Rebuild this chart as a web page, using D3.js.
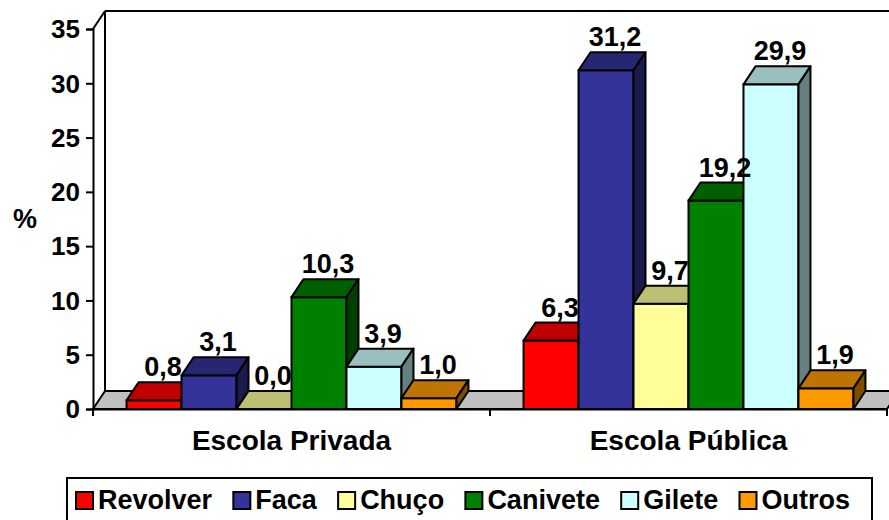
<!DOCTYPE html>
<html>
<head>
<meta charset="utf-8">
<script src="https://cdn.jsdelivr.net/npm/d3@7"></script>
<style>
  body { margin: 0; background: #fff; }
  svg { display: block; font-family: "Liberation Sans", Arial, sans-serif; font-weight: bold; }
</style>
</head>
<body>
<div id="chart"></div>
<script>
// dados
var categories = ['Escola Privada', 'Escola Pública']
var seriesNames = ['Revolver', 'Faca', 'Chuço', 'Canivete', 'Gilete', 'Outros']
var revolver = [0.8, 6.3]
var faca = [3.1, 31.2]
var chuco = [0.0, 9.7]
var canivete = [10.3, 19.2]
var gilete = [3.9, 29.9]
var outros = [1.0, 1.9]
var yTicks = [0, 5, 10, 15, 20, 25, 30, 35]

var seriesValues = [revolver, faca, chuco, canivete, gilete, outros]
// cor frente / topo / lado
var colors = [
  ['#FF0000', '#C00000', '#800000'],
  ['#333399', '#262673', '#1A1A4D'],
  ['#FFFF99', '#BFBF73', '#808066'],
  ['#008000', '#006000', '#004000'],
  ['#CCFFFF', '#99BFBF', '#668080'],
  ['#FF9900', '#BF7300', '#804D00']
]

var width = 889
var height = 520
var DX = 12
var DY = -18

var svg = d3.select('#chart').append('svg')
  .attr('width', width)
  .attr('height', height)

var x = d3.scaleBand().domain(categories).range([93, 887])
var x1 = d3.scaleBand().domain(seriesNames).range([0, x.bandwidth()]).paddingOuter(0.61)
var y = d3.scaleLinear().domain([0, 35]).range([409, 29])

var fmt = d3.formatLocale({ decimal: ',', thousands: '.', grouping: [3], currency: ['', ''] }).format('.1f')

var x0 = x.range()[0]
var xEnd = x.range()[1]

// parede de fundo
svg.append('line')
  .attr('x1', x0 + DX).attr('y1', y(35) + DY)
  .attr('x2', x0 + DX).attr('y2', y(0) + DY)
  .attr('stroke', '#000').attr('stroke-width', 2)
svg.append('line')
  .attr('x1', x0 + DX).attr('y1', y(35) + DY)
  .attr('x2', xEnd + DX).attr('y2', y(35) + DY)
  .attr('stroke', '#000').attr('stroke-width', 2)
svg.append('line')
  .attr('x1', x0).attr('y1', y(35))
  .attr('x2', x0 + DX).attr('y2', y(35) + DY)
  .attr('stroke', '#000').attr('stroke-width', 2)

// chão
svg.append('polygon')
  .attr('points', [[x0, y(0)], [xEnd, y(0)], [xEnd + DX, y(0) + DY], [x0 + DX, y(0) + DY]].join(' '))
  .attr('fill', '#C0C0C0')
  .attr('stroke', '#000')
  .attr('stroke-width', 2)
  .attr('stroke-linejoin', 'round')

// eixo y
var yAxis = svg.append('g')
  .attr('transform', 'translate(' + x0 + ',0)')
  .call(d3.axisLeft(y).tickValues(yTicks).tickSize(7).tickPadding(6).tickFormat(d3.format('d')))
yAxis.select('.domain').attr('stroke-width', 2)
yAxis.selectAll('.tick line').attr('stroke-width', 2)
yAxis.selectAll('.tick text')
  .attr('font-size', '26px')
  .attr('font-weight', 'bold')
  .attr('font-family', '"Liberation Sans", Arial, sans-serif')
  .attr('fill', '#000')
  .attr('dy', '0.34em')

svg.append('text')
  .attr('x', 25)
  .attr('y', 228)
  .attr('text-anchor', 'middle')
  .attr('font-size', '27px')
  .text('%')

// barras 3D
var bars = []
categories.forEach(function (c, ci) {
  seriesNames.forEach(function (s, si) {
    bars.push({ cat: c, name: s, si: si, value: seriesValues[si][ci] })
  })
})

var g = svg.append('g')
bars.forEach(function (d) {
  var xl = x(d.cat) + x1(d.name)
  var xr = xl + x1.bandwidth()
  var yt = y(d.value)
  var yb = y(0)
  var col = colors[d.si]
  var bg = g.append('g')
  bg.append('rect')
    .attr('x', xl).attr('y', yt)
    .attr('width', xr - xl).attr('height', yb - yt)
    .attr('fill', col[0]).attr('stroke', '#000').attr('stroke-width', 2)
  bg.append('polygon')
    .attr('points', [[xl, yt], [xr, yt], [xr + DX, yt + DY], [xl + DX, yt + DY]].join(' '))
    .attr('fill', col[1]).attr('stroke', '#000').attr('stroke-width', 2).attr('stroke-linejoin', 'round')
  bg.append('polygon')
    .attr('points', [[xr, yt], [xr + DX, yt + DY], [xr + DX, yb + DY], [xr, yb]].join(' '))
    .attr('fill', col[2]).attr('stroke', '#000').attr('stroke-width', 2).attr('stroke-linejoin', 'round')
})

// rótulos
svg.append('g').selectAll('text')
  .data(bars)
  .enter()
  .append('text')
  .attr('x', function (d) { return x(d.cat) + x1(d.name) + x1.bandwidth() / 2 + 9 })
  .attr('y', function (d) { return y(d.value) + DY - 6 })
  .attr('text-anchor', 'middle')
  .attr('font-size', '27px')
  .text(function (d) { return fmt(d.value) })

// eixo x
var xAxis = svg.append('g')
  .attr('transform', 'translate(0,' + y(0) + ')')
  .call(d3.axisBottom(x).tickSize(0).tickFormat(''))
xAxis.select('.domain').attr('stroke-width', 2)
var xticks = [x0].concat(categories.map(function (c) { return x(c) + x.bandwidth() }))
svg.append('g').selectAll('line')
  .data(xticks)
  .enter()
  .append('line')
  .attr('x1', function (d) { return d }).attr('x2', function (d) { return d })
  .attr('y1', y(0)).attr('y2', y(0) + 7)
  .attr('stroke', '#000').attr('stroke-width', 2)
svg.append('g').selectAll('text')
  .data(categories)
  .enter()
  .append('text')
  .attr('x', function (d) { return x(d) + x.bandwidth() / 2 })
  .attr('y', 450)
  .attr('text-anchor', 'middle')
  .attr('font-size', '28px')
  .text(function (d) { return d })

// legenda
var leg = svg.append('g')
leg.append('rect')
  .attr('x', 67).attr('y', 478)
  .attr('width', 805).attr('height', 60)
  .attr('fill', '#fff').attr('stroke', '#000').attr('stroke-width', 2)

var items = leg.selectAll('g.item')
  .data(seriesNames)
  .enter()
  .append('g')
  .attr('class', 'item')
items.append('rect')
  .attr('width', 17).attr('height', 17)
  .attr('y', 492)
  .attr('fill', function (d, i) { return colors[i][0] })
  .attr('stroke', '#000').attr('stroke-width', 2)
items.append('text')
  .attr('y', 509)
  .attr('font-size', '27px')
  .text(function (d) { return d })

var widths = []
items.selectAll('text').each(function () { widths.push(this.getComputedTextLength()) })
var legStart = 76
var legEnd = 850
var total = d3.sum(widths) + seriesNames.length * (17 + 5)
var gap = (legEnd - legStart - total) / (seriesNames.length - 1)
var pos = legStart
items.each(function (d, i) {
  var it = d3.select(this)
  it.select('rect').attr('x', pos)
  it.select('text').attr('x', pos + 17 + 5)
  pos += 17 + 5 + widths[i] + gap
})
</script>
</body>
</html>
